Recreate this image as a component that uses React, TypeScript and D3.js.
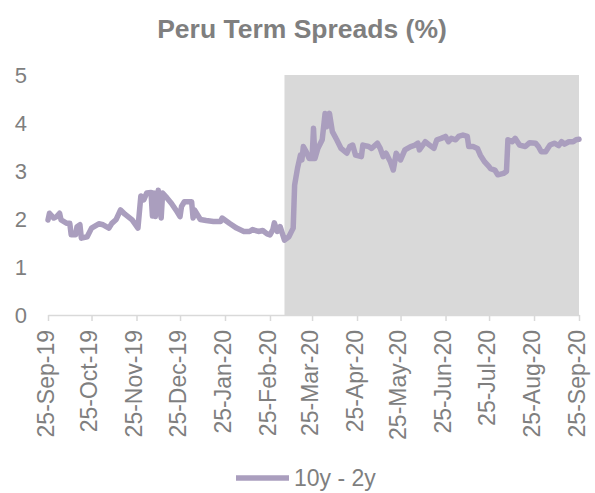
import * as d3 from "d3";
import { useEffect, useRef } from "react";

// 10y - 2y spread
const dates: string[] = [
  "2019-09-25", "2019-09-26", "2019-09-29", "2019-10-01", "2019-10-03", "2019-10-04",
  "2019-10-08", "2019-10-10", "2019-10-11", "2019-10-14", "2019-10-15", "2019-10-17",
  "2019-10-18", "2019-10-22", "2019-10-25", "2019-10-30", "2019-11-02", "2019-11-06",
  "2019-11-08", "2019-11-11", "2019-11-14", "2019-11-17", "2019-11-22", "2019-11-26",
  "2019-11-28", "2019-11-30", "2019-12-02", "2019-12-05", "2019-12-06", "2019-12-07",
  "2019-12-08", "2019-12-10", "2019-12-12", "2019-12-13", "2019-12-16", "2019-12-19",
  "2019-12-23", "2019-12-25", "2019-12-26", "2019-12-28", "2020-01-02", "2020-01-03",
  "2020-01-04", "2020-01-08", "2020-01-12", "2020-01-17", "2020-01-22", "2020-01-23",
  "2020-01-28", "2020-02-02", "2020-02-07", "2020-02-11", "2020-02-13", "2020-02-17",
  "2020-02-20", "2020-02-23", "2020-02-25", "2020-02-27", "2020-02-28", "2020-03-01",
  "2020-03-03", "2020-03-06", "2020-03-09", "2020-03-12", "2020-03-13", "2020-03-15",
  "2020-03-17", "2020-03-18", "2020-03-19", "2020-03-21", "2020-03-23", "2020-03-25",
  "2020-03-26", "2020-03-27", "2020-03-29", "2020-04-01", "2020-04-03", "2020-04-04",
  "2020-04-06", "2020-04-08", "2020-04-11", "2020-04-14", "2020-04-18", "2020-04-20",
  "2020-04-22", "2020-04-24", "2020-04-28", "2020-04-29", "2020-05-03", "2020-05-05",
  "2020-05-09", "2020-05-11", "2020-05-13", "2020-05-15", "2020-05-18", "2020-05-20",
  "2020-05-22", "2020-05-25", "2020-05-28", "2020-06-01", "2020-06-04", "2020-06-06",
  "2020-06-07", "2020-06-11", "2020-06-14", "2020-06-17", "2020-06-19", "2020-06-22",
  "2020-06-25", "2020-06-27", "2020-06-29", "2020-07-02", "2020-07-04", "2020-07-07",
  "2020-07-10", "2020-07-11", "2020-07-14", "2020-07-17", "2020-07-19", "2020-07-22",
  "2020-07-25", "2020-07-26", "2020-07-29", "2020-07-31", "2020-08-04", "2020-08-06",
  "2020-08-07", "2020-08-10", "2020-08-12", "2020-08-15", "2020-08-19", "2020-08-22",
  "2020-08-26", "2020-08-28", "2020-08-30", "2020-09-02", "2020-09-05", "2020-09-08",
  "2020-09-11", "2020-09-13", "2020-09-15", "2020-09-18", "2020-09-21", "2020-09-23",
  "2020-09-25",
];

const spread: number[] = [
  1.98, 2.12, 2.02, 2.05, 2.12, 1.98,
  1.91, 1.91, 1.67, 1.67, 1.84, 1.88,
  1.6, 1.63, 1.81, 1.9, 1.88, 1.81,
  1.91, 1.99, 2.19, 2.1, 1.98, 1.81,
  2.48, 2.4, 2.54, 2.55, 2.06, 2.54,
  2.05, 2.6, 2.02, 2.54, 2.44, 2.33,
  2.15, 2.05, 2.26, 2.36, 2.36, 2.02,
  2.19, 1.99, 1.97, 1.95, 1.95, 2.02,
  1.91, 1.81, 1.74, 1.74, 1.78, 1.74,
  1.76, 1.69, 1.67, 1.78, 1.92, 1.74,
  1.84, 1.56, 1.63, 1.81, 2.71, 3.06,
  3.33, 3.23, 3.51, 3.4, 3.26, 3.26,
  3.89, 3.26, 3.47, 3.65, 4.2, 3.92,
  4.2, 3.82, 3.65, 3.47, 3.37, 3.51,
  3.54, 3.33, 3.3, 3.54, 3.51, 3.47,
  3.58, 3.47, 3.3, 3.37, 3.19, 3.02,
  3.37, 3.23, 3.44, 3.51, 3.54, 3.58,
  3.44, 3.61, 3.54, 3.47, 3.65, 3.68,
  3.72, 3.61, 3.68, 3.65, 3.72, 3.75,
  3.72, 3.51, 3.51, 3.47, 3.33, 3.19,
  3.09, 3.05, 3.02, 2.92, 2.95, 2.99,
  3.65, 3.61, 3.68, 3.54, 3.51, 3.59,
  3.58, 3.51, 3.4, 3.4, 3.54, 3.58,
  3.53, 3.61, 3.56, 3.61, 3.61, 3.65,
  3.66,
];

const tickDates: string[] = [
  "2019-09-25", "2019-10-25", "2019-11-25", "2019-12-25", "2020-01-25", "2020-02-25",
  "2020-03-25", "2020-04-25", "2020-05-25", "2020-06-25", "2020-07-25", "2020-08-25",
  "2020-09-25",
];
const yTicks: number[] = [0, 1, 2, 3, 4, 5];
const shadeRange: string[] = ["2020-03-06", "2020-09-25"];

const title = "Peru Term Spreads (%)";
const seriesName = "10y - 2y";

const App = () => {
  const svgRef = useRef<SVGSVGElement>(null);

  useEffect(() => {
    document.body.style.margin = "0";
    const svg = d3.select(svgRef.current);
    svg.selectAll("*").remove();

    const width = 595;
    const height = 493;
    const font = "'Liberation Sans', Arial, sans-serif";
    const grey = "#7f7f7f";
    const lineColor = "#aa9ebe";

    const parse = d3.utcParse("%Y-%m-%d");
    const fmt = d3.utcFormat("%d-%b-%y");

    const x = d3
      .scaleUtc()
      .domain([parse(tickDates[0])!, parse(tickDates[tickDates.length - 1])!])
      .range([48, 579]);
    const y = d3.scaleLinear().domain([0, 5]).range([315, 75]);

    svg.attr("width", width).attr("height", height).style("display", "block");

    // shaded period
    svg
      .append("rect")
      .attr("x", x(parse(shadeRange[0])!))
      .attr("y", y(5))
      .attr("width", x(parse(shadeRange[1])!) - x(parse(shadeRange[0])!))
      .attr("height", y(0) - y(5))
      .attr("fill", "#d9d9d9");

    // title
    svg
      .append("text")
      .attr("x", 302)
      .attr("y", 38)
      .attr("text-anchor", "middle")
      .style("font-family", font)
      .style("font-size", "26.5px")
      .style("font-weight", "bold")
      .attr("fill", grey)
      .text(title);

    // y labels
    svg
      .selectAll(".ylab")
      .data(yTicks)
      .enter()
      .append("text")
      .attr("x", 27)
      .attr("y", (d) => y(d))
      .attr("dy", "0.36em")
      .attr("text-anchor", "end")
      .style("font-family", font)
      .style("font-size", "22px")
      .attr("fill", grey)
      .text((d) => d);

    // x axis
    const xAxis = d3
      .axisBottom(x)
      .tickValues(tickDates.map((d) => parse(d)!))
      .tickFormat((d) => fmt(d as Date))
      .tickSize(6)
      .tickSizeOuter(0);

    const gx = svg.append("g").attr("transform", `translate(0,${y(0)})`).call(xAxis);
    gx.select(".domain").attr("stroke", "#d9d9d9").attr("stroke-width", 1.5);
    gx.selectAll(".tick line").attr("stroke", "#d9d9d9").attr("stroke-width", 1.5);
    gx.selectAll(".tick text")
      .attr("transform", "rotate(-90)")
      .attr("text-anchor", "end")
      .attr("x", -15)
      .attr("y", 0)
      .attr("dy", "0.22em")
      .style("font-family", font)
      .style("font-size", "23px")
      .attr("fill", grey);

    // series
    const points = dates.map((d, i) => ({ date: parse(d)!, value: spread[i] }));
    const line = d3
      .line<{ date: Date; value: number }>()
      .x((d) => x(d.date))
      .y((d) => y(d.value));

    svg
      .append("path")
      .datum(points)
      .attr("d", line)
      .attr("fill", "none")
      .attr("stroke", lineColor)
      .attr("stroke-width", 5.5)
      .attr("stroke-linejoin", "round")
      .attr("stroke-linecap", "round");

    // legend
    svg
      .append("line")
      .attr("x1", 236)
      .attr("x2", 289)
      .attr("y1", 478)
      .attr("y2", 478)
      .attr("stroke", lineColor)
      .attr("stroke-width", 5.5);

    svg
      .append("text")
      .attr("x", 294)
      .attr("y", 478)
      .attr("dy", "0.36em")
      .style("font-family", font)
      .style("font-size", "23px")
      .attr("fill", grey)
      .text(seriesName);
  }, []);

  return <svg ref={svgRef}></svg>;
};

export default App;
